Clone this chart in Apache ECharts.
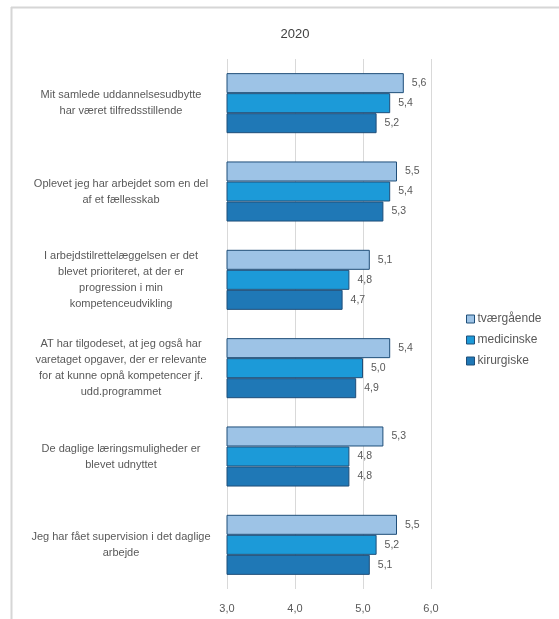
<!DOCTYPE html>
<html>
<head>
<meta charset="utf-8">
<script src="https://cdn.jsdelivr.net/npm/echarts@6/dist/echarts.min.js"></script>
<style>
  html, body { margin: 0; padding: 0; background: #fff; }
  #chart { width: 559px; height: 619px; }
</style>
</head>
<body>
<div id="chart"></div>
<script>
// Survey statements (top to bottom)
const categories = [
  'Mit samlede uddannelsesudbytte\nhar været tilfredsstillende',
  'Oplevet jeg har arbejdet som en del\naf et fællesskab',
  'I arbejdstilrettelæggelsen er det\nblevet prioriteret, at der er\nprogression i min\nkompetenceudvikling',
  'AT har tilgodeset, at jeg også har\nvaretaget opgaver, der er relevante\nfor at kunne opnå kompetencer jf.\nudd.programmet',
  'De daglige læringsmuligheder er\nblevet udnyttet',
  'Jeg har fået supervision i det daglige\narbejde'
];
const seriesNames = ['tværgående', 'medicinske', 'kirurgiske'];
const tvaergaaende = [5.6, 5.5, 5.1, 5.4, 5.3, 5.5];
const medicinske  = [5.4, 5.4, 4.8, 5.0, 4.8, 5.2];
const kirurgiske  = [5.2, 5.3, 4.7, 4.9, 4.8, 5.1];
const xTicks = [3, 4, 5, 6];

const colors = ['#9dc3e6', '#1c9ad8', '#1f78b6'];
const font = 'Liberation Sans, Arial, sans-serif';
const fmt = v => v.toFixed(1).replace('.', ',');

const chart = echarts.init(document.getElementById('chart'), null, { renderer: 'canvas' });

function barSeries(name, data, i) {
  return {
    name: name,
    type: 'bar',
    data: data,
    barGap: '0%',
    barCategoryGap: '32%',
    itemStyle: { color: colors[i], borderColor: '#1f4e79', borderWidth: 1 },
    label: {
      show: true,
      position: 'right',
      distance: 8,
      color: '#595959',
      fontFamily: font,
      fontSize: 10.5,
      formatter: p => fmt(p.value)
    }
  };
}

chart.setOption({
  animation: false,
  color: colors,
  title: {
    text: '2020',
    left: 290,
    top: 23,
    textAlign: 'center',
    textStyle: { color: '#404040', fontFamily: font, fontSize: 13, fontWeight: 'normal' }
  },
  legend: {
    orient: 'vertical',
    left: 461,
    top: 307,
    itemWidth: 8,
    itemHeight: 8,
    itemGap: 7,
    icon: 'rect',
    data: seriesNames,
    itemStyle: { borderColor: '#1f4e79', borderWidth: 1 },
    textStyle: { color: '#595959', fontFamily: font, fontSize: 12, lineHeight: 14, padding: [0, 0, 0, -2] }
  },
  grid: { left: 227, right: 128, top: 59, bottom: 30, containLabel: false },
  xAxis: {
    type: 'value',
    min: xTicks[0],
    max: xTicks[xTicks.length - 1],
    interval: 1,
    axisLine: { show: false },
    axisTick: { show: false },
    splitLine: { lineStyle: { color: '#d9d9d9', width: 1 } },
    axisLabel: {
      color: '#595959', fontFamily: font, fontSize: 11, margin: 14,
      formatter: v => fmt(v)
    }
  },
  yAxis: {
    type: 'category',
    inverse: true,
    data: categories,
    axisLine: { show: false },
    axisTick: { show: false },
    axisLabel: {
      align: 'center',
      margin: 106,
      color: '#595959',
      fontFamily: font,
      fontSize: 11,
      lineHeight: 16
    }
  },
  series: [
    barSeries(seriesNames[0], tvaergaaende, 0),
    barSeries(seriesNames[1], medicinske, 1),
    barSeries(seriesNames[2], kirurgiske, 2)
  ],
  graphic: [
    { type: 'line', shape: { x1: 11, y1: 7.5, x2: 559, y2: 7.5 }, style: { stroke: '#d6d6d6', lineWidth: 2 } },
    { type: 'line', shape: { x1: 11.5, y1: 7, x2: 11.5, y2: 619 }, style: { stroke: '#d6d6d6', lineWidth: 2 } }
  ]
});
</script>
</body>
</html>
